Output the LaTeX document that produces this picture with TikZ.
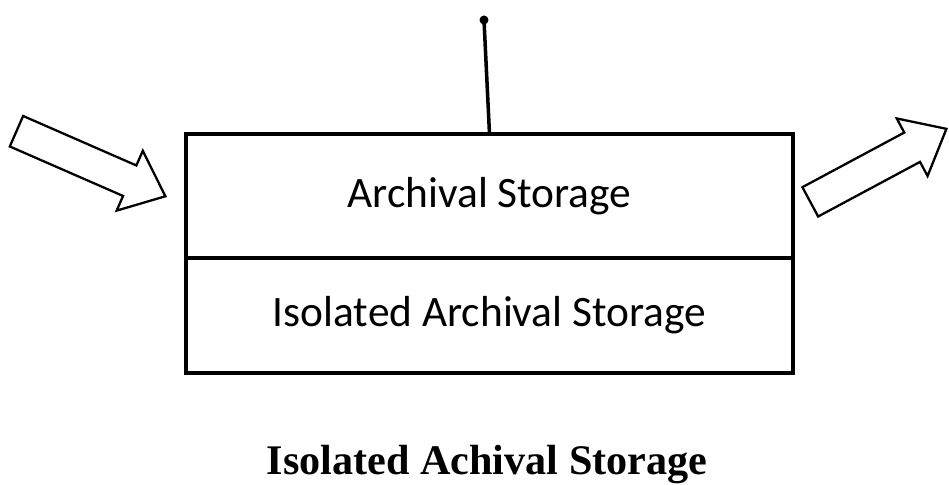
\documentclass[tikz,border=0pt]{standalone}
\usepackage{fontspec}
\newfontfamily\carlito{Carlito}
\newfontfamily\captionserif{Liberation Serif}
\usetikzlibrary{shapes, shapes.arrows, positioning}

\begin{document}
\begin{tikzpicture}[
			layer/.style={rectangle, draw=black, line width=2pt, minimum width=12.14cm, outer sep=0pt, inner sep=0pt, align=center, font=\carlito\fontsize{24.7}{30}\selectfont},
			blockarrow/.style={single arrow, draw=black, line width=1.3pt, inner xsep=0pt, inner ysep=0.31cm, single arrow head extend=0.32cm, single arrow tip angle=80, anchor=tip}
			]
			
			\useasboundingbox (0,0) rectangle (18.98,9.70);
			
			\node[layer, minimum height=2.48cm] (archive) at (9.79,5.78) {Archival Storage};
			\node[layer, minimum height=2.30cm, below=0pt of archive] (isolated) {Isolated Archival Storage};
			
			\coordinate (stem) at (9.68,9.30);
			\draw[line width=2pt] (archive.north) -- (stem);
			\fill (stem) circle (0.09);
			
			\node[blockarrow, minimum height=3.25cm, rotate=-23.6] (inflow) at (3.34,5.76) {};
			\node[blockarrow, minimum height=3.09cm, rotate=28.2] (outflow) at (18.96,7.14) {};
			
			\node[font=\captionserif\bfseries\fontsize{24}{30}\selectfont, anchor=base] (caption) at (9.74,0.21) {Isolated Achival Storage};
		\end{tikzpicture}
\end{document}
